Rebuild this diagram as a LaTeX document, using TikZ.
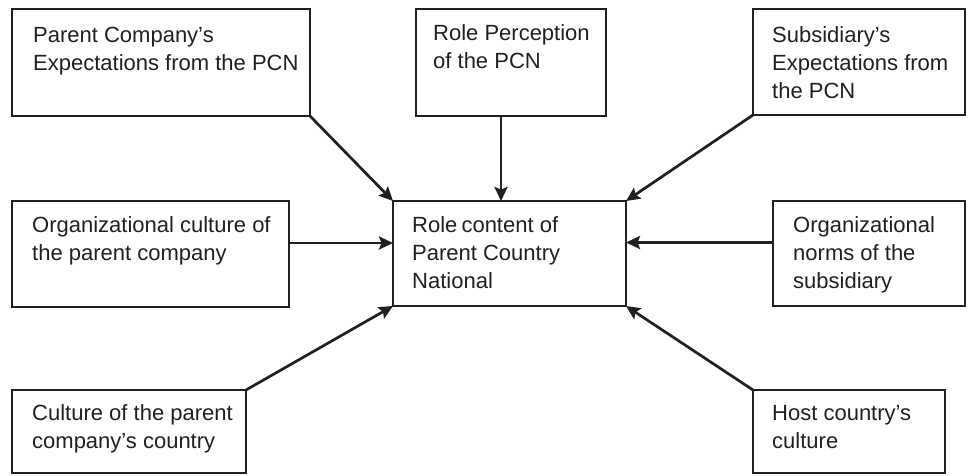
\documentclass[tikz,border=0pt]{standalone}
\usepackage{fontspec}
\setmainfont{Liberation Sans}
\usetikzlibrary{arrows.meta}
\definecolor{ink}{HTML}{231F20}
\begin{document}
\begin{tikzpicture}[x=1pt,y=-1pt,
  box/.style={draw=ink, line width=1.6pt, inner sep=0pt, outer sep=0pt, anchor=north west},
  % multi-line labels are placed by the baseline of their last line
  lbl/.style={text=ink, inner sep=0pt, anchor=base west, align=left,
              font=\fontsize{22}{28}\selectfont},
  link/.style={draw=ink, line width=2.7pt, -{Stealth[length=14pt,width=13pt,inset=2.5pt]}}]
\useasboundingbox (0,0) rectangle (971,475);

% frames
\node[box, minimum width=298pt, minimum height=107pt] (b1) at (12,9) {};
\node[box, minimum width=190pt, minimum height=107pt] (b2) at (416,9) {};
\node[box, minimum width=212pt, minimum height=106pt] (b3) at (753,9) {};
\node[box, minimum width=277pt, minimum height=106pt] (b4) at (12,201) {};
\node[box, minimum width=233pt, minimum height=105pt] (c)  at (393,201) {};
\node[box, minimum width=192pt, minimum height=105pt] (b6) at (773,201) {};
\node[box, minimum width=234pt, minimum height=83pt]  (b7) at (12,390) {};
\node[box, minimum width=192pt, minimum height=83pt]  (b8) at (753,390) {};

% texts
\node[lbl] (t1) at (33,70)   {Parent Company’s\\Expectations from the PCN};
\node[lbl] (t2) at (433,68)  {Role Perception\\of the PCN};
\node[lbl] (t3) at (772,98)  {Subsidiary’s\\Expectations from\\the PCN};
\node[lbl] (t4) at (32,260)  {Organizational culture of\\the parent company};
\node[lbl] (tc) at (412,288) {Role\hspace{-2pt} content of\\Parent Country\\National};
\node[lbl] (t6) at (793,288) {Organizational\\norms of the\\subsidiary};
\node[lbl] (t7) at (32,448)  {Culture of the parent\\company’s country};
\node[lbl] (t8) at (772,448) {Host country’s\\culture};

% influences on the central role
\draw[link] (b1.south east) -- (c.north west);
\draw[link] ([xshift=-10pt]b2.south) -- ([xshift=-10pt]b2.south |- c.north);
\draw[link] (b3.south west) -- (c.north east);
\draw[link] ([yshift=11pt]b4.east) -- ([yshift=11pt]b4.east -| c.west);
\draw[link] ([yshift=11pt]b6.west) -- ([yshift=11pt]b6.west -| c.east);
\draw[link] (b7.north east) -- (c.south west);
\draw[link] (b8.north west) -- (c.south east);
\end{tikzpicture}
\end{document}
